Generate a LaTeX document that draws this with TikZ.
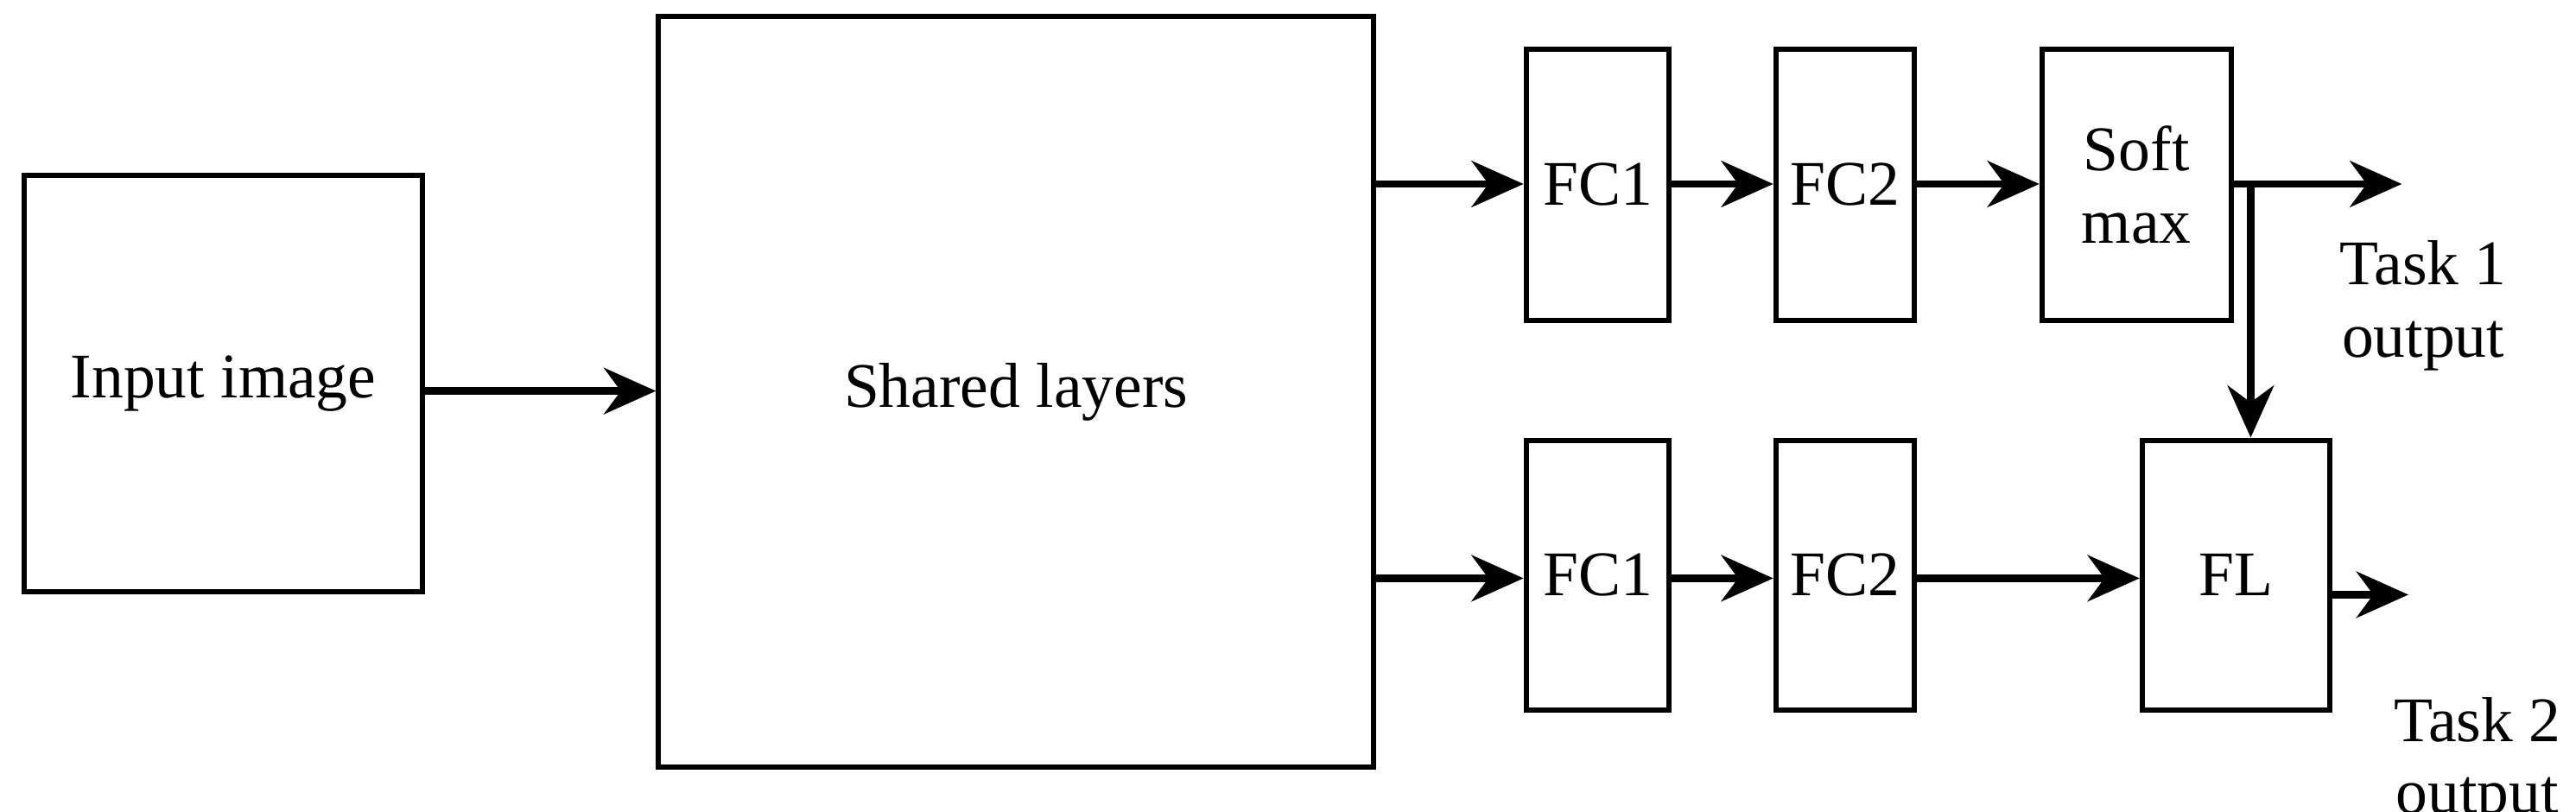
\documentclass[tikz,border=0pt]{standalone}
\usepackage{fontspec}
\setmainfont{Liberation Serif}
\usetikzlibrary{arrows.meta}
\begin{document}
\begin{tikzpicture}[x=0.01cm,y=-0.01cm,
  box/.style={draw,line width=0.9pt,inner sep=0pt},
  arr/.style={line width=1.3pt,-{Stealth[length=9pt,width=8pt]}},
  lbl/.style={font=\fontsize{11pt}{12.5pt}\selectfont,align=center}]
\useasboundingbox (0,0) rectangle (1568,494);
\node[box,minimum width=2.42cm,minimum height=2.53cm,lbl] (in) at (136,233.5) {Input image};
\node[box,minimum width=4.35cm,minimum height=4.57cm,lbl] (sh) at (618.5,238.5) {Shared layers};
\node[box,minimum width=0.87cm,minimum height=1.65cm,lbl] (fa) at (972.5,112.5) {FC1};
\node[box,minimum width=0.84cm,minimum height=1.65cm,lbl] (fb) at (1123,112.5) {FC2};
\node[box,minimum width=1.15cm,minimum height=1.65cm,lbl] (sm) at (1300.5,112.5) {Soft\\max};
\node[box,minimum width=0.87cm,minimum height=1.64cm,lbl] (fc) at (972.5,350) {FC1};
\node[box,minimum width=0.84cm,minimum height=1.64cm,lbl] (fd) at (1123,350) {FC2};
\node[box,minimum width=1.14cm,minimum height=1.64cm,lbl] (fl) at (1361,350) {FL};
\draw[arr] (in.east|-0,238) -- (sh.west|-0,238);
\draw[arr] (sh.east|-0,112) -- (fa.west|-0,112);
\draw[arr] (sh.east|-0,352) -- (fc.west|-0,352);
\draw[arr] (fa.east|-0,112) -- (fb.west|-0,112);
\draw[arr] (fb.east|-0,112) -- (sm.west|-0,112);
\draw[arr] (fc.east|-0,352) -- (fd.west|-0,352);
\draw[arr] (fd.east|-0,352) -- (fl.west|-0,352);
\coordinate (o1) at (1462,112);
\coordinate (o2) at (1466,362);
\draw[arr] (sm.east|-0,112) -- (o1);
\draw[arr] (1370,112) -- (fl.north-|1370,0);
\draw[arr] (fl.east|-o2) -- (o2);
\node[lbl] (t1) at (1475,186) {Task 1\\output};
\node[lbl] (t2) at (1508,464) {Task 2\\output};
\end{tikzpicture}
\end{document}
